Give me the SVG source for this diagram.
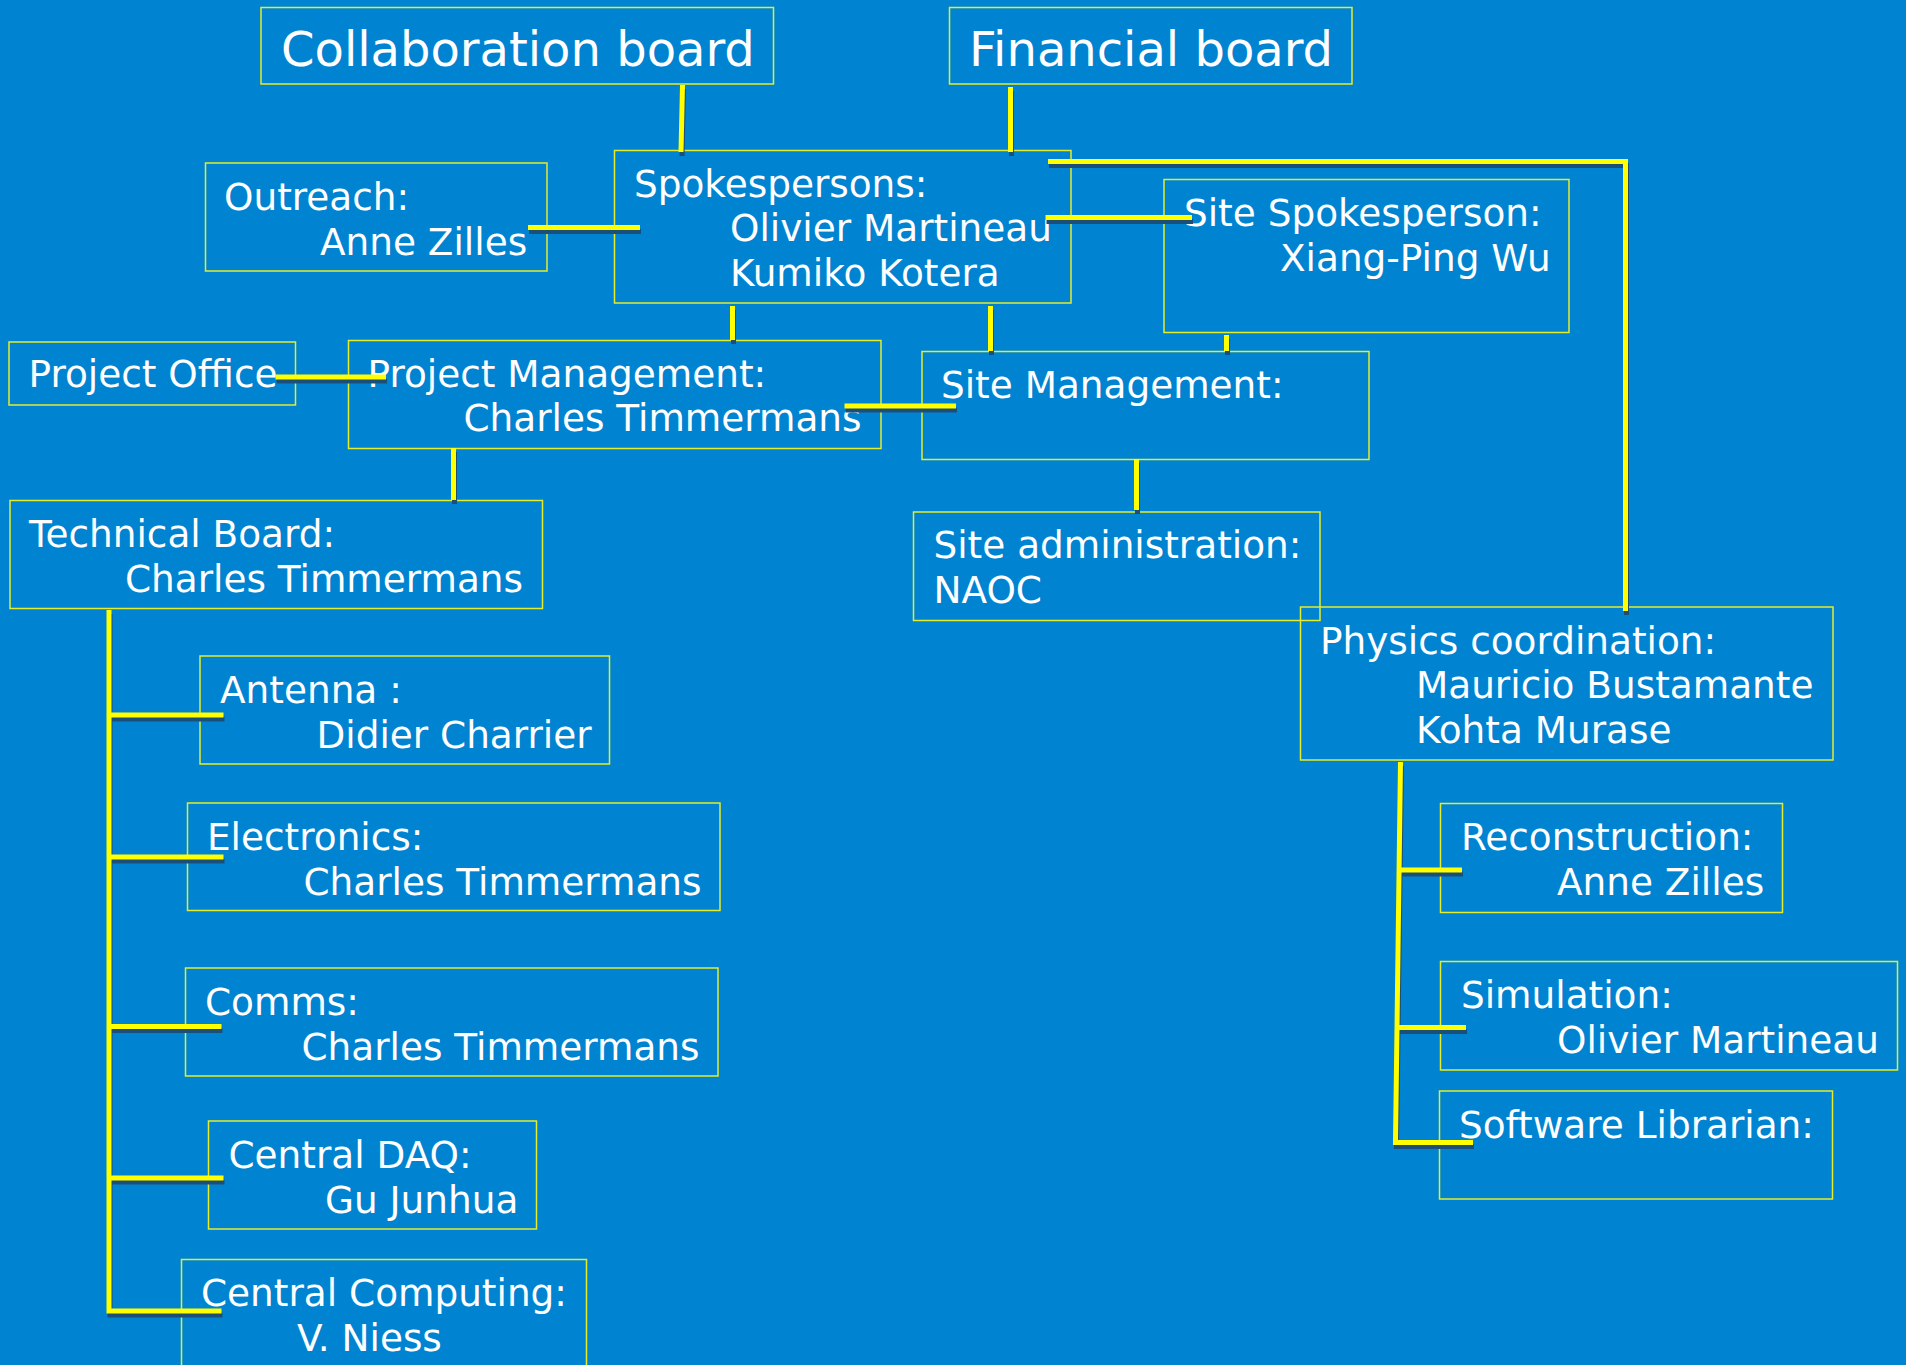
<svg xmlns="http://www.w3.org/2000/svg" width="1906" height="1365" viewBox="0 0 1906 1365">
<style>
.box{fill:none;stroke:#e4ec2c;stroke-width:1.5}
text{font-family:"DejaVu Sans","Liberation Sans",sans-serif;fill:#ffffff;font-size:37.4px}
text.big{font-size:48px}
.wire{fill:none;stroke:#ffff00;stroke-width:5;stroke-linecap:butt;stroke-linejoin:miter}
.shadow{fill:none;stroke:#1c4f78;stroke-width:5;stroke-linecap:butt;stroke-linejoin:miter}
</style>
<rect width="1906" height="1365" fill="#0084d1"/>
<g id="collab"><rect class="box" x="261" y="7.5" width="512.5" height="76.5"/><text class="big" x="281" y="65.5">Collaboration board</text></g>
<g id="financial"><rect class="box" x="949.5" y="7.5" width="402.5" height="76.5"/><text class="big" x="969" y="65.5">Financial board</text></g>
<g id="outreach"><rect class="box" x="205.5" y="163" width="341.5" height="108"/><text x="224" y="210">Outreach:</text><text x="320" y="254.5">Anne Zilles</text></g>
<g id="spokespersons"><rect class="box" x="614.5" y="150.5" width="456.5" height="152.5"/><text x="634" y="196.5">Spokespersons:</text><text x="730" y="241">Olivier Martineau</text><text x="730" y="285.5">Kumiko Kotera</text></g>
<g id="site-spokesperson"><rect class="box" x="1164" y="179.5" width="405" height="153"/><text x="1184" y="225.5">Site Spokesperson:</text><text x="1280" y="270.5">Xiang-Ping Wu</text></g>
<g id="project-office"><rect class="box" x="9" y="342" width="286.5" height="63"/><text x="28.5" y="387">Project Office</text></g>
<g id="project-management"><rect class="box" x="348.5" y="340.5" width="532.5" height="108"/><text x="367.5" y="386.5">Project Management:</text><text x="463.5" y="431">Charles Timmermans</text></g>
<g id="site-management"><rect class="box" x="922" y="351.5" width="447" height="108"/><text x="941" y="397.5">Site Management:</text></g>
<g id="technical-board"><rect class="box" x="10" y="500.5" width="532.5" height="108"/><text x="29" y="547">Technical Board:</text><text x="125" y="591.5">Charles Timmermans</text></g>
<g id="site-administration"><rect class="box" x="913.5" y="512" width="406.5" height="108.5"/><text x="933.5" y="558">Site administration:</text><text x="933.5" y="602.5">NAOC</text></g>
<g id="physics"><rect class="box" x="1300.5" y="607" width="532.5" height="153"/><text x="1320" y="653.5">Physics coordination:</text><text x="1416" y="698">Mauricio Bustamante</text><text x="1416" y="742.5">Kohta Murase</text></g>
<g id="antenna"><rect class="box" x="200" y="656" width="409.5" height="108"/><text x="220" y="703">Antenna :</text><text x="316.5" y="747.5">Didier Charrier</text></g>
<g id="electronics"><rect class="box" x="187.5" y="803" width="532.5" height="107.5"/><text x="207" y="850">Electronics:</text><text x="303.5" y="894.5">Charles Timmermans</text></g>
<g id="comms"><rect class="box" x="185.5" y="968" width="532.5" height="108"/><text x="205" y="1015">Comms:</text><text x="301.5" y="1059.5">Charles Timmermans</text></g>
<g id="central-daq"><rect class="box" x="208.5" y="1121" width="328" height="108"/><text x="228.5" y="1168">Central DAQ:</text><text x="325" y="1212.5">Gu Junhua</text></g>
<g id="central-computing"><rect class="box" x="181.5" y="1259.5" width="405" height="153"/><text x="201" y="1306">Central Computing:</text><text x="297" y="1350.5">V. Niess</text></g>
<g id="reconstruction"><rect class="box" x="1440.5" y="803.5" width="342" height="109"/><text x="1461" y="850">Reconstruction:</text><text x="1557" y="894.5">Anne Zilles</text></g>
<g id="simulation"><rect class="box" x="1440.5" y="961.5" width="457" height="108.5"/><text x="1461" y="1008">Simulation:</text><text x="1557" y="1052.5">Olivier Martineau</text></g>
<g id="software-librarian"><rect class="box" x="1439.5" y="1091" width="393" height="108"/><text x="1459" y="1137.5">Software Librarian:</text></g>
<g id="connectors">
<g class="shadow" transform="translate(1,4)">
<path d="M682.5 85L681 152"/>
<path d="M1010.5 87V152"/>
<path d="M528 227.5H640"/>
<path d="M1048 161.5H1625.5V611"/>
<path d="M1045.5 217.5H1192"/>
<path d="M732.5 306V340"/>
<path d="M990.5 306V351"/>
<path d="M1226.5 335V351"/>
<path d="M275.5 377H386"/>
<path d="M844.5 406H956"/>
<path d="M453.5 448V500"/>
<path d="M1136.5 459V510"/>
<path d="M109 610V1311H221.5"/>
<path d="M109 715H223.5"/>
<path d="M109 857H223.5"/>
<path d="M109 1026.5H221.5"/>
<path d="M109 1178H223.5"/>
<path d="M1400.5 762L1395.5 1142.5H1473"/>
<path d="M1397 870H1462"/>
<path d="M1399 1027.5H1466"/>
</g>
<g class="wire">
<path d="M682.5 85L681 152"/>
<path d="M1010.5 87V152"/>
<path d="M528 227.5H640"/>
<path d="M1048 161.5H1625.5V611"/>
<path d="M1045.5 217.5H1192"/>
<path d="M732.5 306V340"/>
<path d="M990.5 306V351"/>
<path d="M1226.5 335V351"/>
<path d="M275.5 377H386"/>
<path d="M844.5 406H956"/>
<path d="M453.5 448V500"/>
<path d="M1136.5 459V510"/>
<path d="M109 610V1311H221.5"/>
<path d="M109 715H223.5"/>
<path d="M109 857H223.5"/>
<path d="M109 1026.5H221.5"/>
<path d="M109 1178H223.5"/>
<path d="M1400.5 762L1395.5 1142.5H1473"/>
<path d="M1397 870H1462"/>
<path d="M1399 1027.5H1466"/>
</g>
</g>
</svg>
